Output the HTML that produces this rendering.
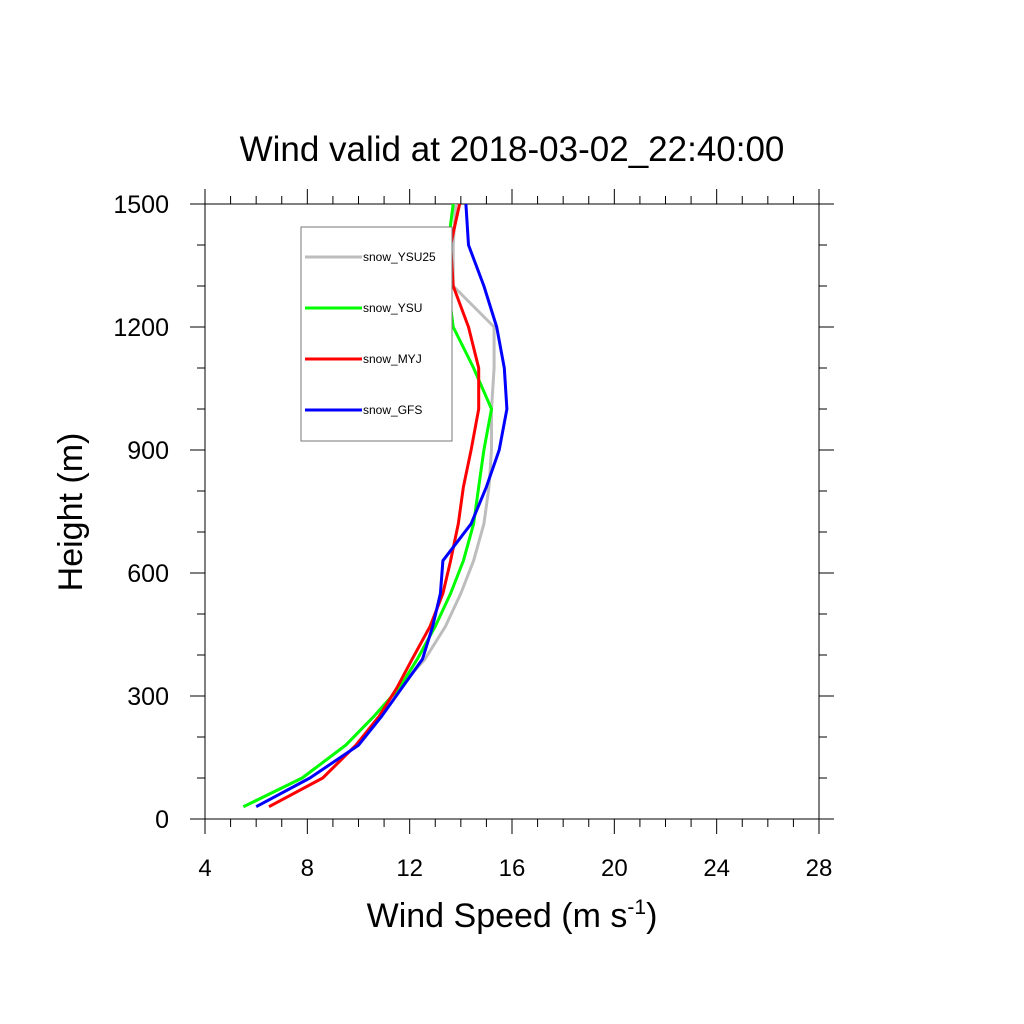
<!DOCTYPE html>
<html><head><meta charset="utf-8"><style>body{margin:0;background:#fff}svg{display:block}</style></head><body>
<svg id="chart" width="1024" height="1024" xmlns="http://www.w3.org/2000/svg" font-family="Liberation Sans, sans-serif">
<rect width="1024" height="1024" fill="#fff"/>
<text x="512" y="161" font-size="35" text-anchor="middle">Wind valid at 2018-03-02_22:40:00</text>
<g id="axes"></g>
<g id="series"></g>
<g id="legend">
<rect x="301" y="227" width="151" height="214" fill="#fff" stroke="#777" stroke-width="1"/>
</g>
<text transform="translate(82,512) rotate(-90)" font-size="34" text-anchor="middle">Height (m)</text>
<text x="512" y="927" font-size="34" text-anchor="middle">Wind Speed (m s<tspan dy="-13" font-size="21">-1</tspan><tspan dy="13">)</tspan></text>
</svg>
<script>
const heights=[30,100,180,250,320,390,470,550,630,720,810,900,1000,1100,1200,1300,1400,1500];
const ysu25=[5.5,7.8,9.5,10.6,11.6,12.6,13.4,14.0,14.5,14.9,15.1,15.2,15.2,15.3,15.3,13.7,13.7,13.8];
const ysu=[5.5,7.8,9.5,10.6,11.6,12.3,13.0,13.6,14.1,14.5,14.7,14.9,15.2,14.5,13.7,13.5,13.5,13.7];
const myj=[6.5,8.6,9.9,10.8,11.5,12.1,12.8,13.3,13.6,13.9,14.1,14.4,14.7,14.7,14.3,13.7,13.6,13.95];
const gfs=[6.0,8.1,10.0,10.9,11.7,12.5,12.9,13.2,13.3,14.4,15.0,15.5,15.8,15.7,15.4,14.9,14.3,14.2];
const xTicks=[4,8,12,16,20,24,28];
const yTicks=[0,300,600,900,1200,1500];
const seriesNames=["snow_YSU25","snow_YSU","snow_MYJ","snow_GFS"];
const seriesColors=["#bdbdbd","#00ff00","#ff0000","#0000ff"];
const L=205,R=819,T=204,B=819;
const xs=v=>L+(v-4)/24*(R-L);
const ys=v=>B-v/1500*(B-T);
const NS="http://www.w3.org/2000/svg";
function mk(t,a,p){const e=document.createElementNS(NS,t);for(const k in a)e.setAttribute(k,a[k]);p.appendChild(e);return e;}
const ax=document.getElementById('axes');
const frame=mk('rect',{x:L,y:T,width:R-L,height:B-T,fill:'none',stroke:'#000','stroke-width':1},ax);


for(let v=4;v<=28;v++){const major=(v%4===0);const len=major?15:8;const x=xs(v);
 mk('line',{x1:x,x2:x,y1:B,y2:B+len,stroke:'#000'},ax);
 mk('line',{x1:x,x2:x,y1:T,y2:T-len,stroke:'#000'},ax);}
for(let v=0;v<=1500;v+=100){const major=(v%300===0);const len=major?15:8;const y=ys(v);
 mk('line',{x1:L,x2:L-len,y1:y,y2:y,stroke:'#000'},ax);
 mk('line',{x1:R,x2:R+len,y1:y,y2:y,stroke:'#000'},ax);}
xTicks.forEach(v=>{const t=mk('text',{x:xs(v),y:B+57,'font-size':24,'text-anchor':'middle'},ax);t.textContent=v;
 
 });
yTicks.forEach(v=>{const t=mk('text',{x:L-36,y:ys(v)+9,'font-size':25,'text-anchor':'end'},ax);t.textContent=v;
 
 });
const sg=document.getElementById('series');
[ysu25,ysu,myj,gfs].forEach((d,i)=>{
 const pts=d.map((v,j)=>xs(v).toFixed(1)+','+ys(heights[j]).toFixed(1)).join(' ');
 const p=mk('polyline',{points:pts,fill:'none',stroke:seriesColors[i],'stroke-width':3,'stroke-linejoin':'round'},sg);
 
 
});
const lg=document.getElementById('legend');
seriesNames.forEach((n,i)=>{const y=257+i*51;
 const l=mk('line',{x1:305,x2:362,y1:y,y2:y,stroke:seriesColors[i],'stroke-width':3},lg);
 
 
 const t=mk('text',{x:363,y:y+4,'font-size':12},lg);t.textContent=n;
 
 });
</script>
</body></html>
